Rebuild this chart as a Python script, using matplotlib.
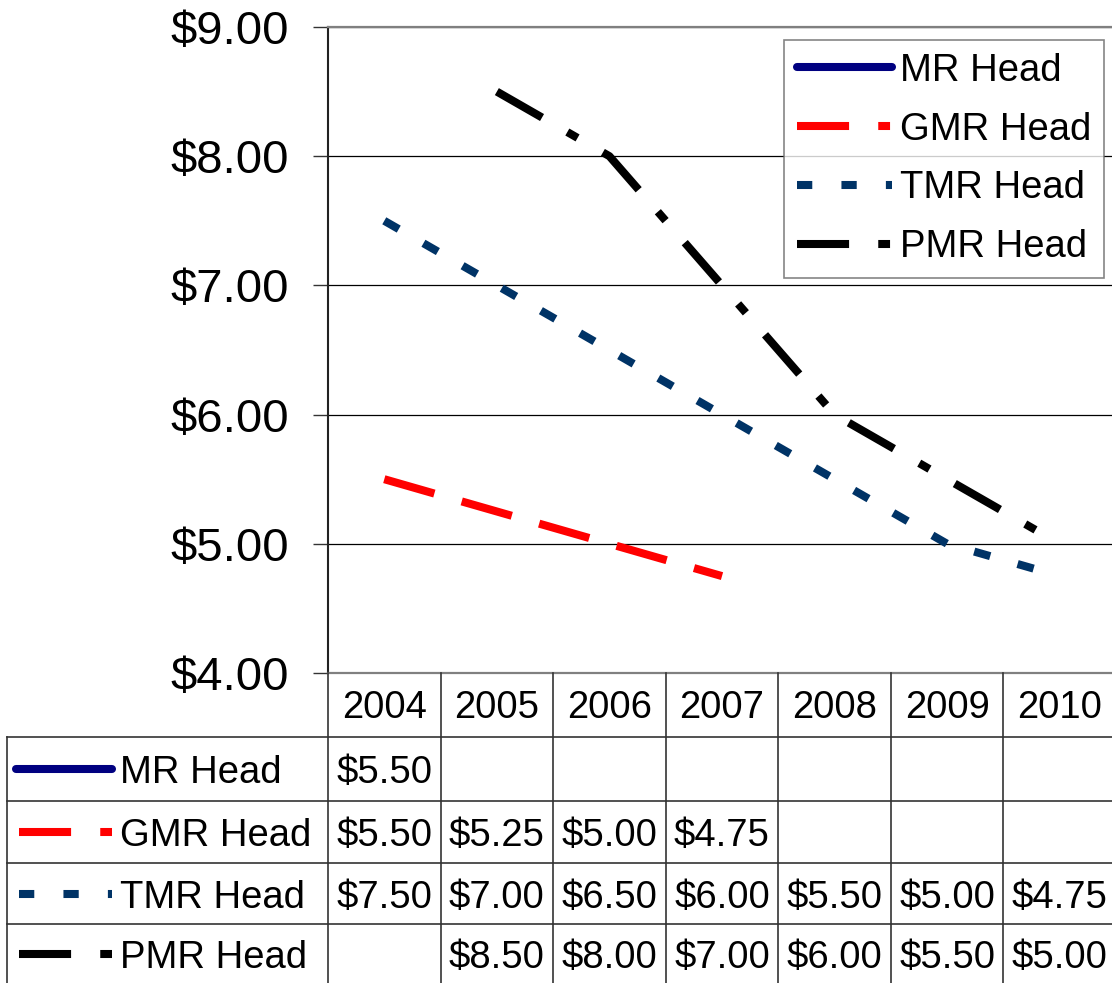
import numpy as np
import matplotlib.pyplot as plt
from matplotlib.lines import Line2D

plt.rcParams['font.family'] = ['Liberation Sans', 'DejaVu Sans']

years = ['2004', '2005', '2006', '2007', '2008', '2009', '2010']
series_names = ['MR Head', 'GMR Head', 'TMR Head', 'PMR Head']
mr_head = [5.50, np.nan, np.nan, np.nan, np.nan, np.nan, np.nan]
gmr_head = [5.50, 5.25, 5.00, 4.75, np.nan, np.nan, np.nan]
tmr_head = [7.50, 7.00, 6.50, 6.00, 5.50, 5.00, 4.75]
pmr_head = [np.nan, 8.50, 8.00, 7.00, 6.00, 5.50, 5.00]
y_ticks = [4, 5, 6, 7, 8, 9]

series = [mr_head, gmr_head, tmr_head, pmr_head]
colors = ['#000080', '#ff0000', '#003366', '#000000']
LW = 5.8

def dashes(*pts):
    # lengths in points; matplotlib scales dash patterns by the line width
    return (0, tuple(p / LW for p in pts))

dash_dot = dashes(37.5, 21, 8.5, 21)
# the chart draws GMR as plain long dashes, the legend samples show dash-dot
plot_styles = ['-', dashes(37.5, 20.5), dashes(12, 20.5), dash_dot]
key_styles = ['-', dash_dot, dashes(11, 21), dash_dot]
caps = ['round', 'butt', 'butt', 'butt']
FS = 27.5

W, H = 1112, 983
fig = plt.figure(figsize=(W / 100, H / 100), dpi=100)

# plot area in pixel terms
px_left, px_right, px_top, px_bot = 328, 1116, 27, 673
col_w = (px_right - px_left) / len(years)
ax = fig.add_axes([px_left / W, 1 - px_bot / H, (px_right - px_left) / W, (px_bot - px_top) / H])

x = np.arange(len(years))
for vals, c, ls, cap in zip(series, colors, plot_styles, caps):
    ax.plot(x, vals, color=c, linestyle=ls, linewidth=LW,
            dash_capstyle=cap, solid_capstyle=cap)

handles = [Line2D([], [], color=c, linestyle=ls, linewidth=LW,
                  dash_capstyle=cap, solid_capstyle=cap, label=name)
           for c, ls, cap, name in zip(colors, key_styles, caps, series_names)]

ax.set_xlim(-0.5, len(years) - 0.5)
ax.set_ylim(4, 9)
ax.set_yticks(y_ticks)
ax.set_yticklabels(['$%.2f' % v for v in y_ticks], fontsize=34)
ax.set_xticks([])
ax.tick_params(axis='y', direction='out', length=11, width=1, pad=17, color='#333333')
ax.grid(axis='y', color='black', linewidth=0.9)
ax.set_axisbelow(True)
for s in ['top', 'bottom']:
    ax.spines[s].set_color('#808080')
    ax.spines[s].set_linewidth(1.6)
ax.spines['right'].set_visible(False)
ax.spines['left'].set_color('#222222')
ax.spines['left'].set_linewidth(1.5)

leg = ax.legend(handles=handles, loc='upper right',
                bbox_to_anchor=(1104 / W, 1 - 40 / H), bbox_transform=fig.transFigure,
                fontsize=FS, frameon=True, fancybox=False, edgecolor='#666666',
                borderaxespad=0, borderpad=0.33, handlelength=2.5, handletextpad=0.2,
                labelspacing=0.6)
leg.get_frame().set_linewidth(1.2)

# data table below the plot
tax = fig.add_axes([0, 0, 1, (H - px_bot) / H])
tax.set_xlim(-0.5 - px_left / col_w, -0.5 + (W - px_left) / col_w)
tax.set_ylim(H, px_bot)
tax.axis('off')

def to_x(px):
    return -0.5 + (px - px_left) / col_w

rows = [px_bot, 737, 801, 863, 924, H]
lc = '#333333'
for yb in rows[1:-1]:
    tax.plot([to_x(7), len(years) - 0.5], [yb, yb], color=lc, lw=1.2, clip_on=False)
tax.plot([to_x(7), to_x(7)], [737, H], color=lc, lw=1.2, clip_on=False)
for k in range(len(years) + 1):
    tax.plot([k - 0.5, k - 0.5], [px_bot, H], color=lc, lw=1.2, clip_on=False)

for i, yr in enumerate(years):
    tax.text(i, (rows[0] + rows[1]) / 2 + 3, yr, fontsize=FS, ha='center', va='center')

for r, (vals, c, ls, cap, name) in enumerate(zip(series, colors, key_styles, caps, series_names)):
    yc = (rows[r + 1] + rows[r + 2]) / 2
    hx0 = 16 if cap == 'round' else 19
    tax.plot([to_x(hx0), to_x(112)], [yc, yc], color=c, linestyle=ls, linewidth=LW,
             dash_capstyle=cap, solid_capstyle=cap)
    tax.text(to_x(120), yc + 4, name, fontsize=FS, ha='left', va='center')
    for i, v in enumerate(vals):
        if not np.isnan(v):
            tax.text(i, yc + 4, '$%.2f' % v, fontsize=FS, ha='center', va='center')

fig.savefig('out.png', dpi=100)
